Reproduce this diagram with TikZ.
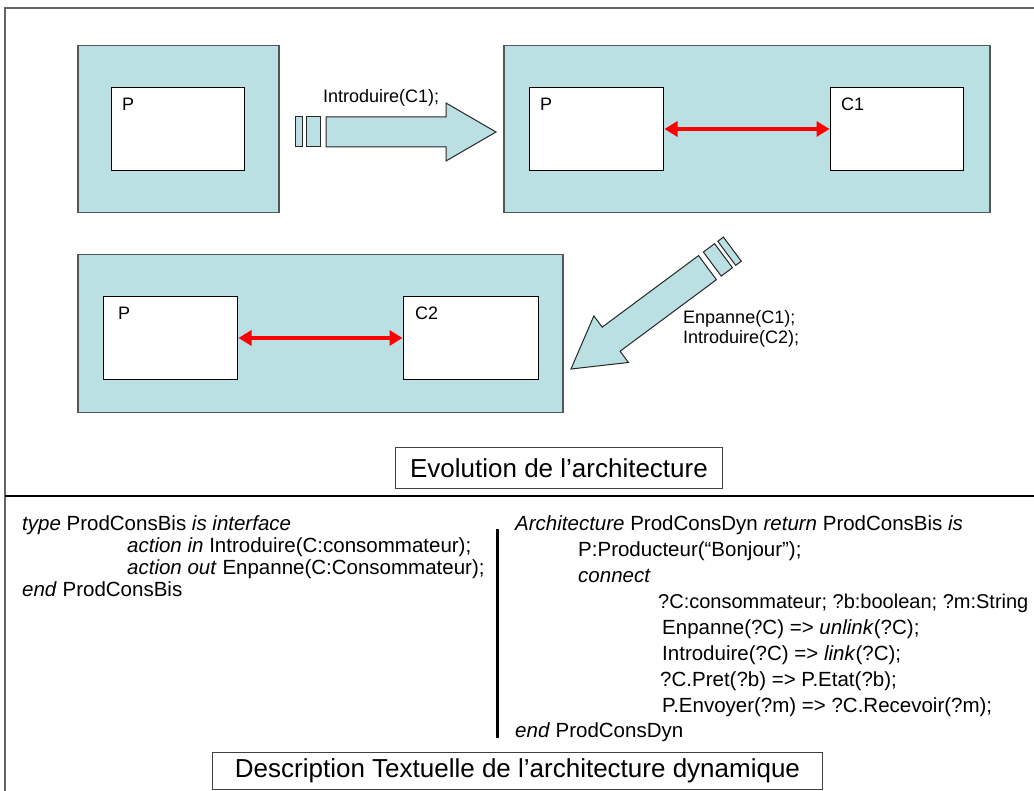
\documentclass[tikz,border=0pt]{standalone}
\usepackage{fontspec}
\setmainfont{Liberation Sans}
\usetikzlibrary{arrows.meta}

\definecolor{archfill}{RGB}{187,224,227}
\definecolor{archedge}{RGB}{80,88,88}
\definecolor{frameline}{RGB}{100,100,100}

\tikzset{
  envbox/.style={draw=archedge, line width=1.5pt, fill=archfill, inner sep=0pt, anchor=north west},
  compbox/.style={draw=black, line width=1pt, fill=white, inner sep=0pt, anchor=north west},
  complabel/.style={font=\fontsize{18}{20}\selectfont, anchor=base west, inner sep=0pt},
  linkarrow/.style={draw=red, line width=4pt,
    {Triangle[length=13pt,width=15pt]}-{Triangle[length=13pt,width=15pt]}, shorten <=0.5pt, shorten >=0.5pt},
  blockarrow/.style={draw=black!85, line width=1pt, fill=archfill, line join=miter},
  oplabel/.style={font=\fontsize{18}{20}\selectfont, anchor=base west, inner sep=0pt},
  titlebox/.style={draw=black!75, line width=1pt, fill=white, inner sep=0pt,
    font=\fontsize{26}{30}\selectfont},
  codeline/.style={font=\fontsize{20.5}{22}\selectfont, anchor=base west, inner sep=0pt}
}

% block arrow drawn pointing along +x with its tip at the origin
\newcommand{\transitionarrow}{%
  \path[blockarrow] (-170,-15) -- (-50,-15) -- (-50,-29) -- (0,0) -- (-50,29) -- (-50,15) -- (-170,15) -- cycle;
  \path[blockarrow] (-190,-15) rectangle (-176,15);
  \path[blockarrow] (-201,-15) rectangle (-194,15);
}

\begin{document}
\begin{tikzpicture}[x=1pt,y=-1pt]
\useasboundingbox (0,0) rectangle (1034,791);
\fill[white] (0,0) rectangle (1034,791);

% page frame and section divider
\draw[frameline, line width=1.5pt] (1040,8) -- (5,8) -- (5,797);
\draw[black, line width=1.5pt] (5,496) -- (1040,496);

% ---- initial architecture: producer alone
\node[envbox, minimum width=201pt, minimum height=167pt] (envA) at (77,45) {};
\node[compbox, minimum width=133pt, minimum height=83pt] (pA) at (111,87) {};
\node[complabel] (pAlab) at ([shift={(11,24)}]pA.north west) {P};

% ---- transition: introduction of C1
\coordinate (tipA) at (496,132);
\begin{scope}[shift={(tipA)}]
  \transitionarrow
\end{scope}
\node[oplabel] (opA) at (323,103) {Introduire(C1);};

% ---- architecture with P and C1
\node[envbox, minimum width=486pt, minimum height=167pt] (envB) at (503,45) {};
\node[compbox, minimum width=134pt, minimum height=83pt] (pB) at (529,87) {};
\node[compbox, minimum width=133pt, minimum height=83pt] (c1) at (830,87) {};
\node[complabel] (pBlab) at ([shift={(11,24)}]pB.north west) {P};
\node[complabel] (c1lab) at ([shift={(11,24)}]c1.north west) {C1};
\draw[linkarrow] (pB.east) -- (c1.west);

% ---- transition: C1 fails, C2 introduced
\coordinate (tipB) at (571,369);
\begin{scope}[shift={(tipB)}, rotate=216.6]
  \transitionarrow
\end{scope}
\node[oplabel] (opB1) at (683,324) {Enpanne(C1);};
\node[oplabel] (opB2) at (683,344) {Introduire(C2);};

% ---- architecture with P and C2
\node[envbox, minimum width=485pt, minimum height=158pt] (envC) at (77,254) {};
\node[compbox, minimum width=134pt, minimum height=83pt] (pC) at (103,296) {};
\node[compbox, minimum width=135pt, minimum height=83pt] (c2) at (403,296) {};
\node[complabel] (pClab) at ([shift={(15,24)}]pC.north west) {P};
\node[complabel] (c2lab) at ([shift={(12,24)}]c2.north west) {C2};
\draw[linkarrow] (pC.east) -- (c2.west);

% ---- caption of the upper part
\node[titlebox, minimum width=327pt, minimum height=41pt, anchor=north west] (evo) at (395,447)
  {Evolution de l’architecture};

% ---- textual description
\draw[black, line width=3pt] (497,529) -- (497,738);

\node[codeline] (l1) at (22,530) {\textit{type} ProdConsBis \textit{is interface}};
\node[codeline] (l2) at (127,552) {\textit{action in} Introduire(C:consommateur);};
\node[codeline] (l3) at (127,574) {\textit{action out} Enpanne(C:Consommateur);};
\node[codeline] (l4) at (22,596) {\textit{end} ProdConsBis};

\node[codeline] (r1) at (515,530) {\textit{Architecture} ProdConsDyn \textit{return} ProdConsBis \textit{is}};
\node[codeline] (r2) at (578,556) {P:Producteur(“Bonjour”);};
\node[codeline] (r3) at (578,582) {\textit{connect}};
\node[codeline, font=\fontsize{20}{22}\selectfont] (r4) at (658,608) {?C:consommateur; ?b:boolean; ?m:String};
\node[codeline] (r5) at (662,634) {Enpanne(?C) => \textit{unlink}(?C);};
\node[codeline] (r6) at (662,660) {Introduire(?C) => \textit{link}(?C);};
\node[codeline] (r7) at (660,686) {?C.Pret(?b) => P.Etat(?b);};
\node[codeline] (r8) at (662,712) {P.Envoyer(?m) => ?C.Recevoir(?m);};
\node[codeline] (r9) at (515,737) {\textit{end} ProdConsDyn};

\node[titlebox, minimum width=610pt, minimum height=37pt, anchor=north west] (desc) at (212,752)
  {Description Textuelle de l’architecture dynamique};
\end{tikzpicture}
\end{document}
